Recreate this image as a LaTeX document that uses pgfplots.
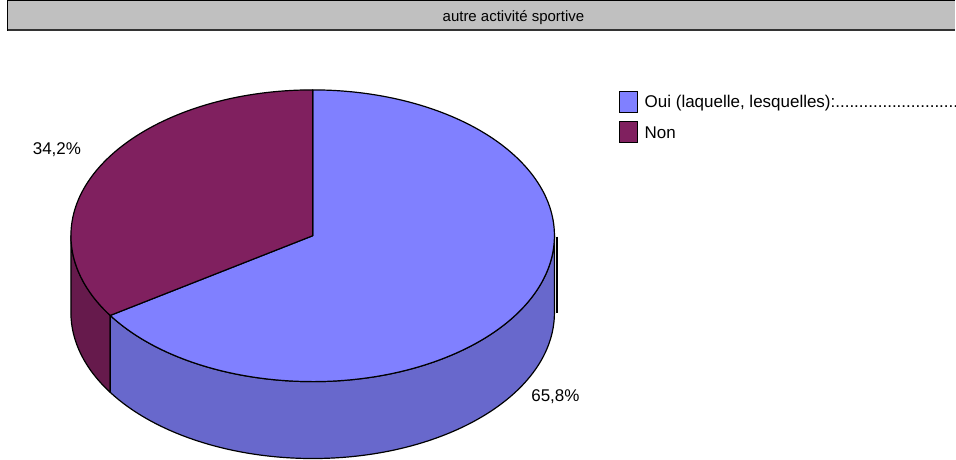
\documentclass[border=0pt]{standalone}
\usepackage{pgfplots}
\usepackage{pgfplotstable}
\pgfplotsset{compat=1.18}
\usepackage{fontspec}
\setmainfont{Liberation Sans}
\definecolor{ouiTop}{HTML}{8080FF}
\definecolor{ouiSide}{HTML}{6868CC}
\definecolor{nonTop}{HTML}{80205F}
\definecolor{nonSide}{HTML}{661A4C}
\definecolor{barGray}{HTML}{C0C0C0}
\pgfplotstableread{
label value
Oui 65.8
Non 34.2
}\piedata
\pgfplotstablegetelem{0}{value}\of\piedata \let\vOui\pgfplotsretval
\pgfplotstablegetelem{1}{value}\of\piedata \let\vNon\pgfplotsretval
\pgfmathsetmacro\aEnd{90+3.6*\vNon}
\pgfmathsetmacro\pX{313+242*cos(\aEnd)}
\pgfmathsetmacro\pY{223+146*sin(\aEnd)}
\pgfmathsetmacro\qY{\pY-77}
\begin{document}
\begin{tikzpicture}
\begin{axis}[
  x=0.5pt, y=0.5pt,
  xmin=0, xmax=956, ymin=0, ymax=459,
  hide axis, clip=false,
]
\path (axis cs:0,0) rectangle (axis cs:956,459);
% title bar
\fill[barGray] (axis cs:8,428) rectangle (axis cs:956,458);
\draw[black, line width=0.5pt] (axis cs:956,458) -- (axis cs:8,458) -- (axis cs:8,428) -- (axis cs:956,428);
\draw[black!80, line width=1pt] (axis cs:8,428.5) -- (axis cs:956,428.5);
\node[font=\fontsize{7.5}{9}\selectfont] at (axis cs:514,441) {autre activité sportive};
% sides
\filldraw[fill=nonSide, draw=black, line width=0.6pt, line join=round]
  (axis cs:71,223) arc[start angle=180, end angle=\aEnd, x radius=121pt, y radius=73pt]
  -- (axis cs:\pX,\qY) arc[start angle=\aEnd, end angle=180, x radius=121pt, y radius=73pt] -- cycle;
\filldraw[fill=ouiSide, draw=black, line width=0.6pt, line join=round]
  (axis cs:\pX,\pY) arc[start angle=\aEnd, end angle=360, x radius=121pt, y radius=73pt]
  -- (axis cs:555,146) arc[start angle=360, end angle=\aEnd, x radius=121pt, y radius=73pt] -- cycle;
% tops
\filldraw[fill=ouiTop, draw=black, line width=0.6pt, line join=round]
  (axis cs:313,223) -- (axis cs:\pX,\pY) arc[start angle=\aEnd, end angle=450, x radius=121pt, y radius=73pt] -- cycle;
\filldraw[fill=nonTop, draw=black, line width=0.6pt, line join=round]
  (axis cs:313,223) -- (axis cs:313,369) arc[start angle=90, end angle=\aEnd, x radius=121pt, y radius=73pt] -- cycle;
\draw[black, line width=0.6pt] (axis cs:557.5,222) -- (axis cs:557.5,146);
% labels
\node[font=\fontsize{8.5}{10}\selectfont] at (axis cs:57,309) {34,2\%};
\node[font=\fontsize{8.5}{10}\selectfont] at (axis cs:556,62) {65,8\%};
% legend
\filldraw[fill=ouiTop, draw=black, line width=0.6pt] (axis cs:620,346) rectangle (axis cs:638,367);
\filldraw[fill=nonTop, draw=black, line width=0.6pt] (axis cs:620,316) rectangle (axis cs:638,337);
\node[anchor=west, inner sep=0pt, font=\fontsize{8.5}{10}\selectfont] at (axis cs:645,356) {\makebox[155.5pt][l]{Oui (laquelle, lesquelles):...............................}};
\node[anchor=west, inner sep=0pt, font=\fontsize{8.5}{10}\selectfont] at (axis cs:645,326) {Non};
\end{axis}
\end{tikzpicture}
\end{document}
